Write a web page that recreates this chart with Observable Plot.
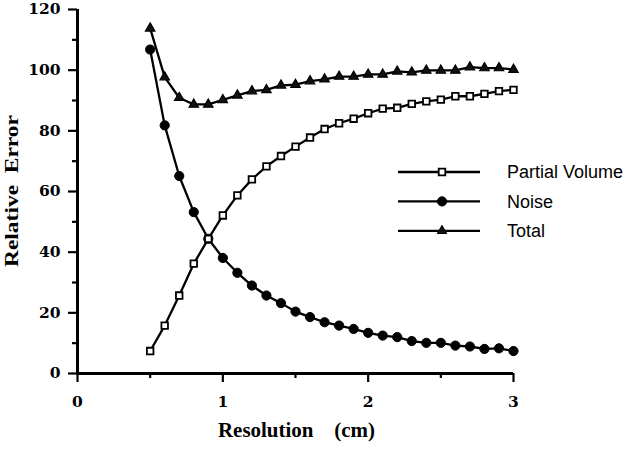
<!DOCTYPE html>
<html>
<head>
<meta charset="utf-8">
<script src="https://cdn.jsdelivr.net/npm/d3@7"></script>
<script src="https://cdn.jsdelivr.net/npm/@observablehq/plot@0.6"></script>
<style>
  html, body { margin: 0; padding: 0; background: #fff; }
  #chart { width: 637px; height: 450px; }
</style>
</head>
<body>
<div id="chart"></div>
<script>
// Resolution (cm) sampled every 0.1 cm
const resolution = [0.5, 0.6, 0.7, 0.8, 0.9, 1.0, 1.1, 1.2, 1.3, 1.4, 1.5, 1.6, 1.7,
                    1.8, 1.9, 2.0, 2.1, 2.2, 2.3, 2.4, 2.5, 2.6, 2.7, 2.8, 2.9, 3.0];

// Relative error components
const partialVolume = [7.4, 15.8, 25.7, 36.2, 44.4, 52.1, 58.7, 64.0, 68.3, 71.7, 74.8, 77.8, 80.6,
                       82.5, 84.0, 85.8, 87.3, 87.6, 88.9, 89.7, 90.3, 91.4, 91.4, 92.2, 93.1, 93.5];
const noise = [106.8, 81.8, 65.1, 53.2, 44.4, 38.1, 33.2, 29.0, 25.7, 23.2, 20.4, 18.6, 16.9,
               15.8, 14.7, 13.4, 12.5, 12.0, 10.7, 10.1, 10.1, 9.2, 8.9, 8.1, 8.3, 7.4];
const total = [113.8, 97.7, 90.9, 88.7, 88.7, 90.2, 91.7, 93.1, 93.5, 95.0, 95.2, 96.4, 97.0,
               97.9, 97.9, 98.6, 98.6, 99.6, 99.3, 99.9, 99.9, 99.9, 101.0, 100.7, 100.7, 100.2];

const seriesNames = ["Partial Volume", "Noise", "Total"];

// Axis ticks
const xTicks = [0, 1, 2, 3];
const xMinorTicks = [0.5, 1.5, 2.5];
const yTicks = [0, 20, 40, 60, 80, 100, 120];
const yMinorTicks = [10, 30, 50, 70, 90, 110];

const xTitle = "Resolution\u00a0\u00a0\u00a0\u00a0(cm)";
const yTitle = "Relative\u00a0\u00a0Error";

const rows = (values) => resolution.map((x, i) => ({x, y: values[i]}));
const pv = rows(partialVolume);
const nz = rows(noise);
const tt = rows(total);

const serif = "Liberation Serif";
const sans = "Liberation Sans";
const labelFont = {fontFamily: "DejaVu Serif", fontSize: 15.5, fontWeight: "bold", fill: "#000"};

const chart = Plot.plot({
  width: 637,
  height: 450,
  marginLeft: 77,
  marginRight: 124,
  marginTop: 9,
  marginBottom: 77,
  style: {background: "#fff", color: "#000", overflow: "visible"},
  x: {domain: [0, 3], label: null},
  y: {domain: [0, 120], label: null},
  marks: [
    // minor ticks
    Plot.axisX(xMinorTicks, {tickSize: 5, text: null, label: null, strokeWidth: 2.2}),
    Plot.axisY(yMinorTicks, {tickSize: 5, text: null, label: null, strokeWidth: 2.2}),
    // major ticks
    Plot.axisX(xTicks, {tickSize: 9, text: null, label: null, strokeWidth: 2.2}),
    Plot.axisY(yTicks, {tickSize: 9, text: null, label: null, strokeWidth: 2.2}),
    // tick labels
    Plot.text(xTicks, {x: (d) => d, y: () => 0, text: (d) => String(d), dy: 29, textAnchor: "middle", lineAnchor: "middle", ...labelFont}),
    Plot.text(yTicks, {x: () => 0, y: (d) => d, text: (d) => String(d), dx: -17, textAnchor: "end", lineAnchor: "middle", ...labelFont}),
    // axis lines
    Plot.ruleY([0], {strokeWidth: 3}),
    Plot.ruleX([0], {strokeWidth: 3}),
    // series lines
    Plot.line(tt, {x: "x", y: "y", stroke: "#000", strokeWidth: 2.3}),
    Plot.line(nz, {x: "x", y: "y", stroke: "#000", strokeWidth: 2.3}),
    Plot.line(pv, {x: "x", y: "y", stroke: "#000", strokeWidth: 2.3}),
    // markers
    Plot.dot(tt, {x: "x", y: "y", symbol: "triangle", r: 3.5, fill: "#111", stroke: "#000", strokeWidth: 1.2}),
    Plot.dot(nz, {x: "x", y: "y", symbol: "circle", r: 4.6, fill: "#000", stroke: "#000", strokeWidth: 1}),
    Plot.dot(pv, {x: "x", y: "y", symbol: "square", r: 3.7, fill: "#fff", stroke: "#000", strokeWidth: 1.8})
  ]
});

document.getElementById("chart").appendChild(chart);

const svg = d3.select(chart);

// axis titles
svg.append("text")
  .attr("x", 296.5).attr("y", 437)
  .attr("text-anchor", "middle")
  .attr("fill", "#000")
  .attr("font-family", serif).attr("font-size", 20.5).attr("font-weight", "bold")
  .attr("textLength", 157).attr("lengthAdjust", "spacingAndGlyphs")
  .text(xTitle);

svg.append("text")
  .attr("transform", "translate(18,191) rotate(-90)")
  .attr("text-anchor", "middle")
  .attr("fill", "#000")
  .attr("font-family", serif).attr("font-size", 19).attr("font-weight", "bold")
  .attr("textLength", 152).attr("lengthAdjust", "spacingAndGlyphs")
  .text(yTitle);

// legend
const symbols = [d3.symbolSquare, d3.symbolCircle, d3.symbolTriangle];
const symSizes = [Math.PI * 3.7 * 3.7, Math.PI * 4.6 * 4.6, Math.PI * 3.5 * 3.5];
const symFill = ["#fff", "#000", "#111"];
const legend = svg.append("g").attr("transform", "translate(398,172)");
seriesNames.forEach((name, i) => {
  const g = legend.append("g").attr("transform", `translate(0,${i * 29.4})`);
  g.append("line").attr("x1", 0).attr("x2", 82).attr("y1", 0).attr("y2", 0)
    .attr("stroke", "#000").attr("stroke-width", 2.3);
  g.append("path").attr("d", d3.symbol(symbols[i], symSizes[i])())
    .attr("transform", "translate(44,0)")
    .attr("fill", symFill[i]).attr("stroke", "#000").attr("stroke-width", i === 0 ? 1.8 : 1);
  g.append("text").attr("x", 109).attr("y", 0).attr("dy", "0.35em")
    .attr("text-anchor", "start")
    .attr("fill", "#000")
    .attr("font-family", sans).attr("font-size", 18).attr("font-weight", "normal")
    .text(name);
});
</script>
</body>
</html>
